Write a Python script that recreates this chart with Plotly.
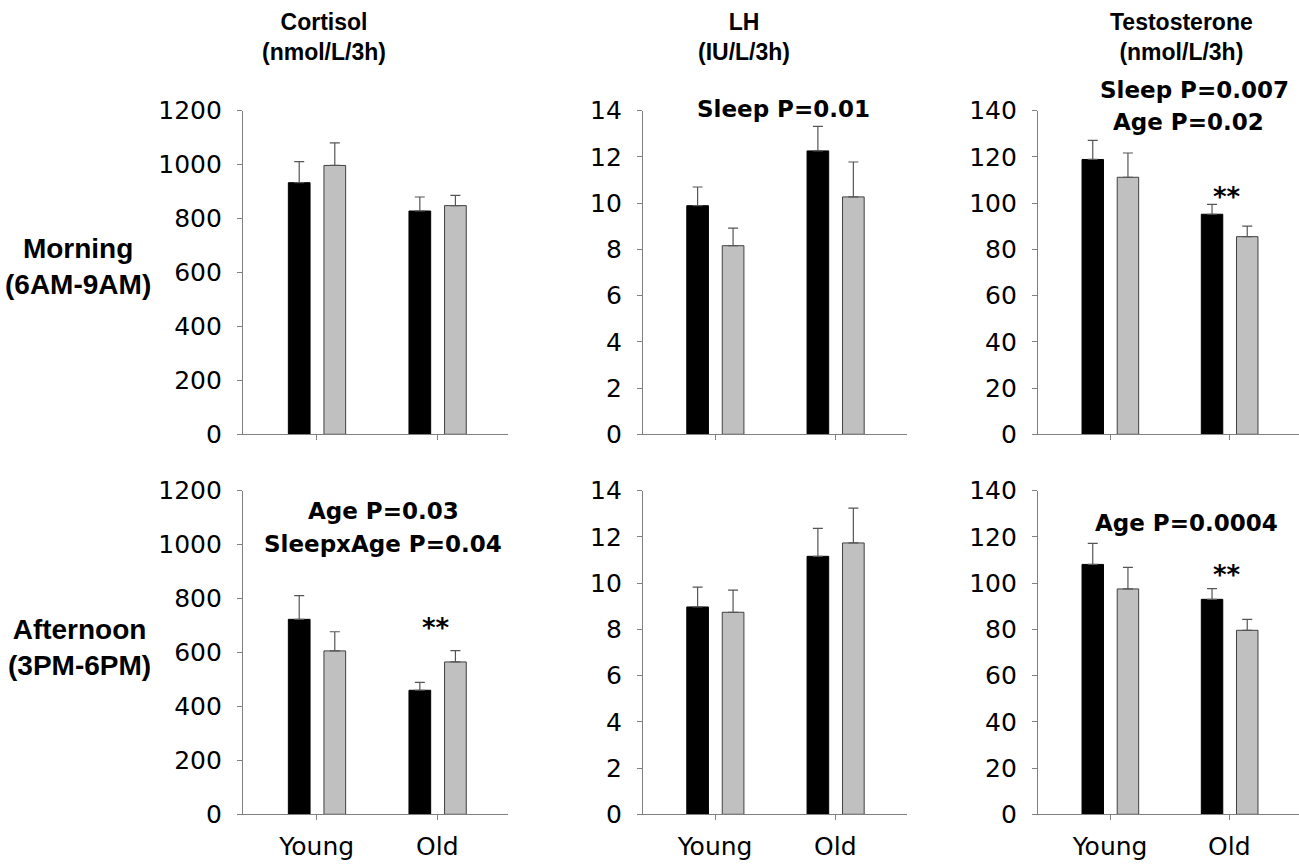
import plotly.graph_objects as go

W, H = 1299, 868

groups = ["Young", "Old"]
panels = ["Cortisol", "LH", "Testosterone"]

# Morning (6AM-9AM)
cort_am_black = [933, 828]
cort_am_black_err = [78, 52]
cort_am_gray = [997, 848]
cort_am_gray_err = [84, 38]

lh_am_black = [9.89, 12.26]
lh_am_black_err = [0.81, 1.06]
lh_am_gray = [8.16, 10.27]
lh_am_gray_err = [0.76, 1.51]

t_am_black = [118.9, 95.2]
t_am_black_err = [8.3, 4.3]
t_am_gray = [111.2, 85.5]
t_am_gray_err = [10.5, 4.6]

# Afternoon (3PM-6PM)
cort_pm_black = [723, 460]
cort_pm_black_err = [88, 29]
cort_pm_gray = [606, 565]
cort_pm_gray_err = [71, 42]

lh_pm_black = [8.97, 11.16]
lh_pm_black_err = [0.86, 1.21]
lh_pm_gray = [8.74, 11.74]
lh_pm_gray_err = [0.96, 1.51]

t_pm_black = [108.1, 93.0]
t_pm_black_err = [9.1, 4.6]
t_pm_gray = [97.5, 79.6]
t_pm_gray_err = [9.3, 4.7]

y_max = [1200, 14, 140]
y_dtick = [200, 2, 20]

series = [
    [(cort_am_black, cort_am_black_err, cort_am_gray, cort_am_gray_err),
     (lh_am_black, lh_am_black_err, lh_am_gray, lh_am_gray_err),
     (t_am_black, t_am_black_err, t_am_gray, t_am_gray_err)],
    [(cort_pm_black, cort_pm_black_err, cort_pm_gray, cort_pm_gray_err),
     (lh_pm_black, lh_pm_black_err, lh_pm_gray, lh_pm_gray_err),
     (t_pm_black, t_pm_black_err, t_pm_gray, t_pm_gray_err)],
]

# layout geometry in pixels
col_px = [(243, 508), (643, 907), (1038, 1299)]
col_ranges = [(-0.611, 1.586), (-0.599, 1.596), (-0.604, 1.584)]
row_px = [(110.7, 434.3), (490.7, 814.3)]

def px_x(x):
    return x / W

def px_y(y):
    return 1 - y / H

fig = go.Figure()
AX = "#808080"
tickfont = dict(family="DejaVu Sans", size=25, color="black")

for r in range(2):
    for c in range(3):
        idx = r * 3 + c + 1
        xa = "x" if idx == 1 else f"x{idx}"
        ya = "y" if idx == 1 else f"y{idx}"
        b, be, g, ge = series[r][c]
        xs = [0, 1]
        fig.add_trace(go.Bar(
            x=xs, y=b, xaxis=xa, yaxis=ya, width=0.18, offset=-0.235,
            marker=dict(color="black", line=dict(color="black", width=1)),
            error_y=dict(type="data", array=be, arrayminus=[0, 0], symmetric=False,
                         color="#555555", thickness=1.2, width=5),
            showlegend=False, hoverinfo="skip"))
        fig.add_trace(go.Bar(
            x=xs, y=g, xaxis=xa, yaxis=ya, width=0.18, offset=0.06,
            marker=dict(color="#C0C0C0", line=dict(color="#404040", width=1)),
            error_y=dict(type="data", array=ge, arrayminus=[0, 0], symmetric=False,
                         color="#555555", thickness=1.2, width=5),
            showlegend=False, hoverinfo="skip"))
        x0, x1 = col_px[c]
        y0, y1 = row_px[r]
        xkey = "xaxis" if idx == 1 else f"xaxis{idx}"
        ykey = "yaxis" if idx == 1 else f"yaxis{idx}"
        fig.update_layout({
            xkey: dict(domain=[px_x(x0), px_x(x1)], anchor=ya, range=list(col_ranges[c]),
                       tickmode="array", tickvals=[0, 1],
                       ticktext=groups if r == 1 else ["", ""],
                       showline=True, linecolor=AX, linewidth=1.2,
                       ticks="outside", ticklen=5, tickcolor=AX, tickwidth=1,
                       showgrid=False, zeroline=False, tickfont=tickfont,
                       ticklabelstandoff=5, fixedrange=True, automargin=False),
            ykey: dict(domain=[px_y(y1), px_y(y0)], anchor=xa, range=[0, y_max[c]],
                       tickmode="linear", tick0=0, dtick=y_dtick[c],
                       showline=True, linecolor=AX, linewidth=1.2,
                       ticks="outside", ticklen=5, tickcolor=AX, tickwidth=1,
                       showgrid=False, zeroline=False, tickfont=tickfont,
                       ticklabelstandoff=10, fixedrange=True, automargin=False),
        })

title_font = dict(family="Liberation Sans, Arial", size=23, color="black")
row_font = dict(family="Liberation Sans, Arial", size=28, color="black")
stat_font = dict(family="DejaVu Sans", size=23, color="black")
star_font = dict(family="DejaVu Sans", size=26, color="black")

annos = [
    ("<b>Cortisol<br>(nmol/L/3h)</b>", 324, 37, title_font),
    ("<b>LH<br>(IU/L/3h)</b>", 744, 37, title_font),
    ("<b>Testosterone<br>(nmol/L/3h)</b>", 1181, 37, title_font),
    ("<b>Morning<br>(6AM-9AM)</b>", 78, 267, row_font),
    ("<b>Afternoon<br>(3PM-6PM)</b>", 79, 647, row_font),
    ("<b>Sleep P=0.01</b>", 783, 109, stat_font),
    ("<b>Sleep P=0.007</b>", 1194, 90, stat_font),
    ("<b>Age P=0.02</b>", 1188, 122, stat_font),
    ("<b>Age P=0.03</b>", 383, 511, stat_font),
    ("<b>SleepxAge P=0.04</b>", 383, 544, stat_font),
    ("<b>Age P=0.0004</b>", 1186, 523, stat_font),
    ("<b>**</b>", 1227, 197, star_font),
    ("<b>**</b>", 436, 628, star_font),
    ("<b>**</b>", 1227, 575, star_font),
]
for text, x, y, f in annos:
    fig.add_annotation(text=text, x=px_x(x), y=px_y(y), xref="paper", yref="paper",
                       xanchor="center", yanchor="middle", showarrow=False, font=f)

fig.update_layout(
    width=W, height=H, margin=dict(l=0, r=0, t=0, b=0, pad=0, autoexpand=False),
    paper_bgcolor="white", plot_bgcolor="white",
    barmode="overlay", showlegend=False,
)

fig.write_html("out.html", config={"displayModeBar": False},
               post_script="document.body.style.margin='0px';")
